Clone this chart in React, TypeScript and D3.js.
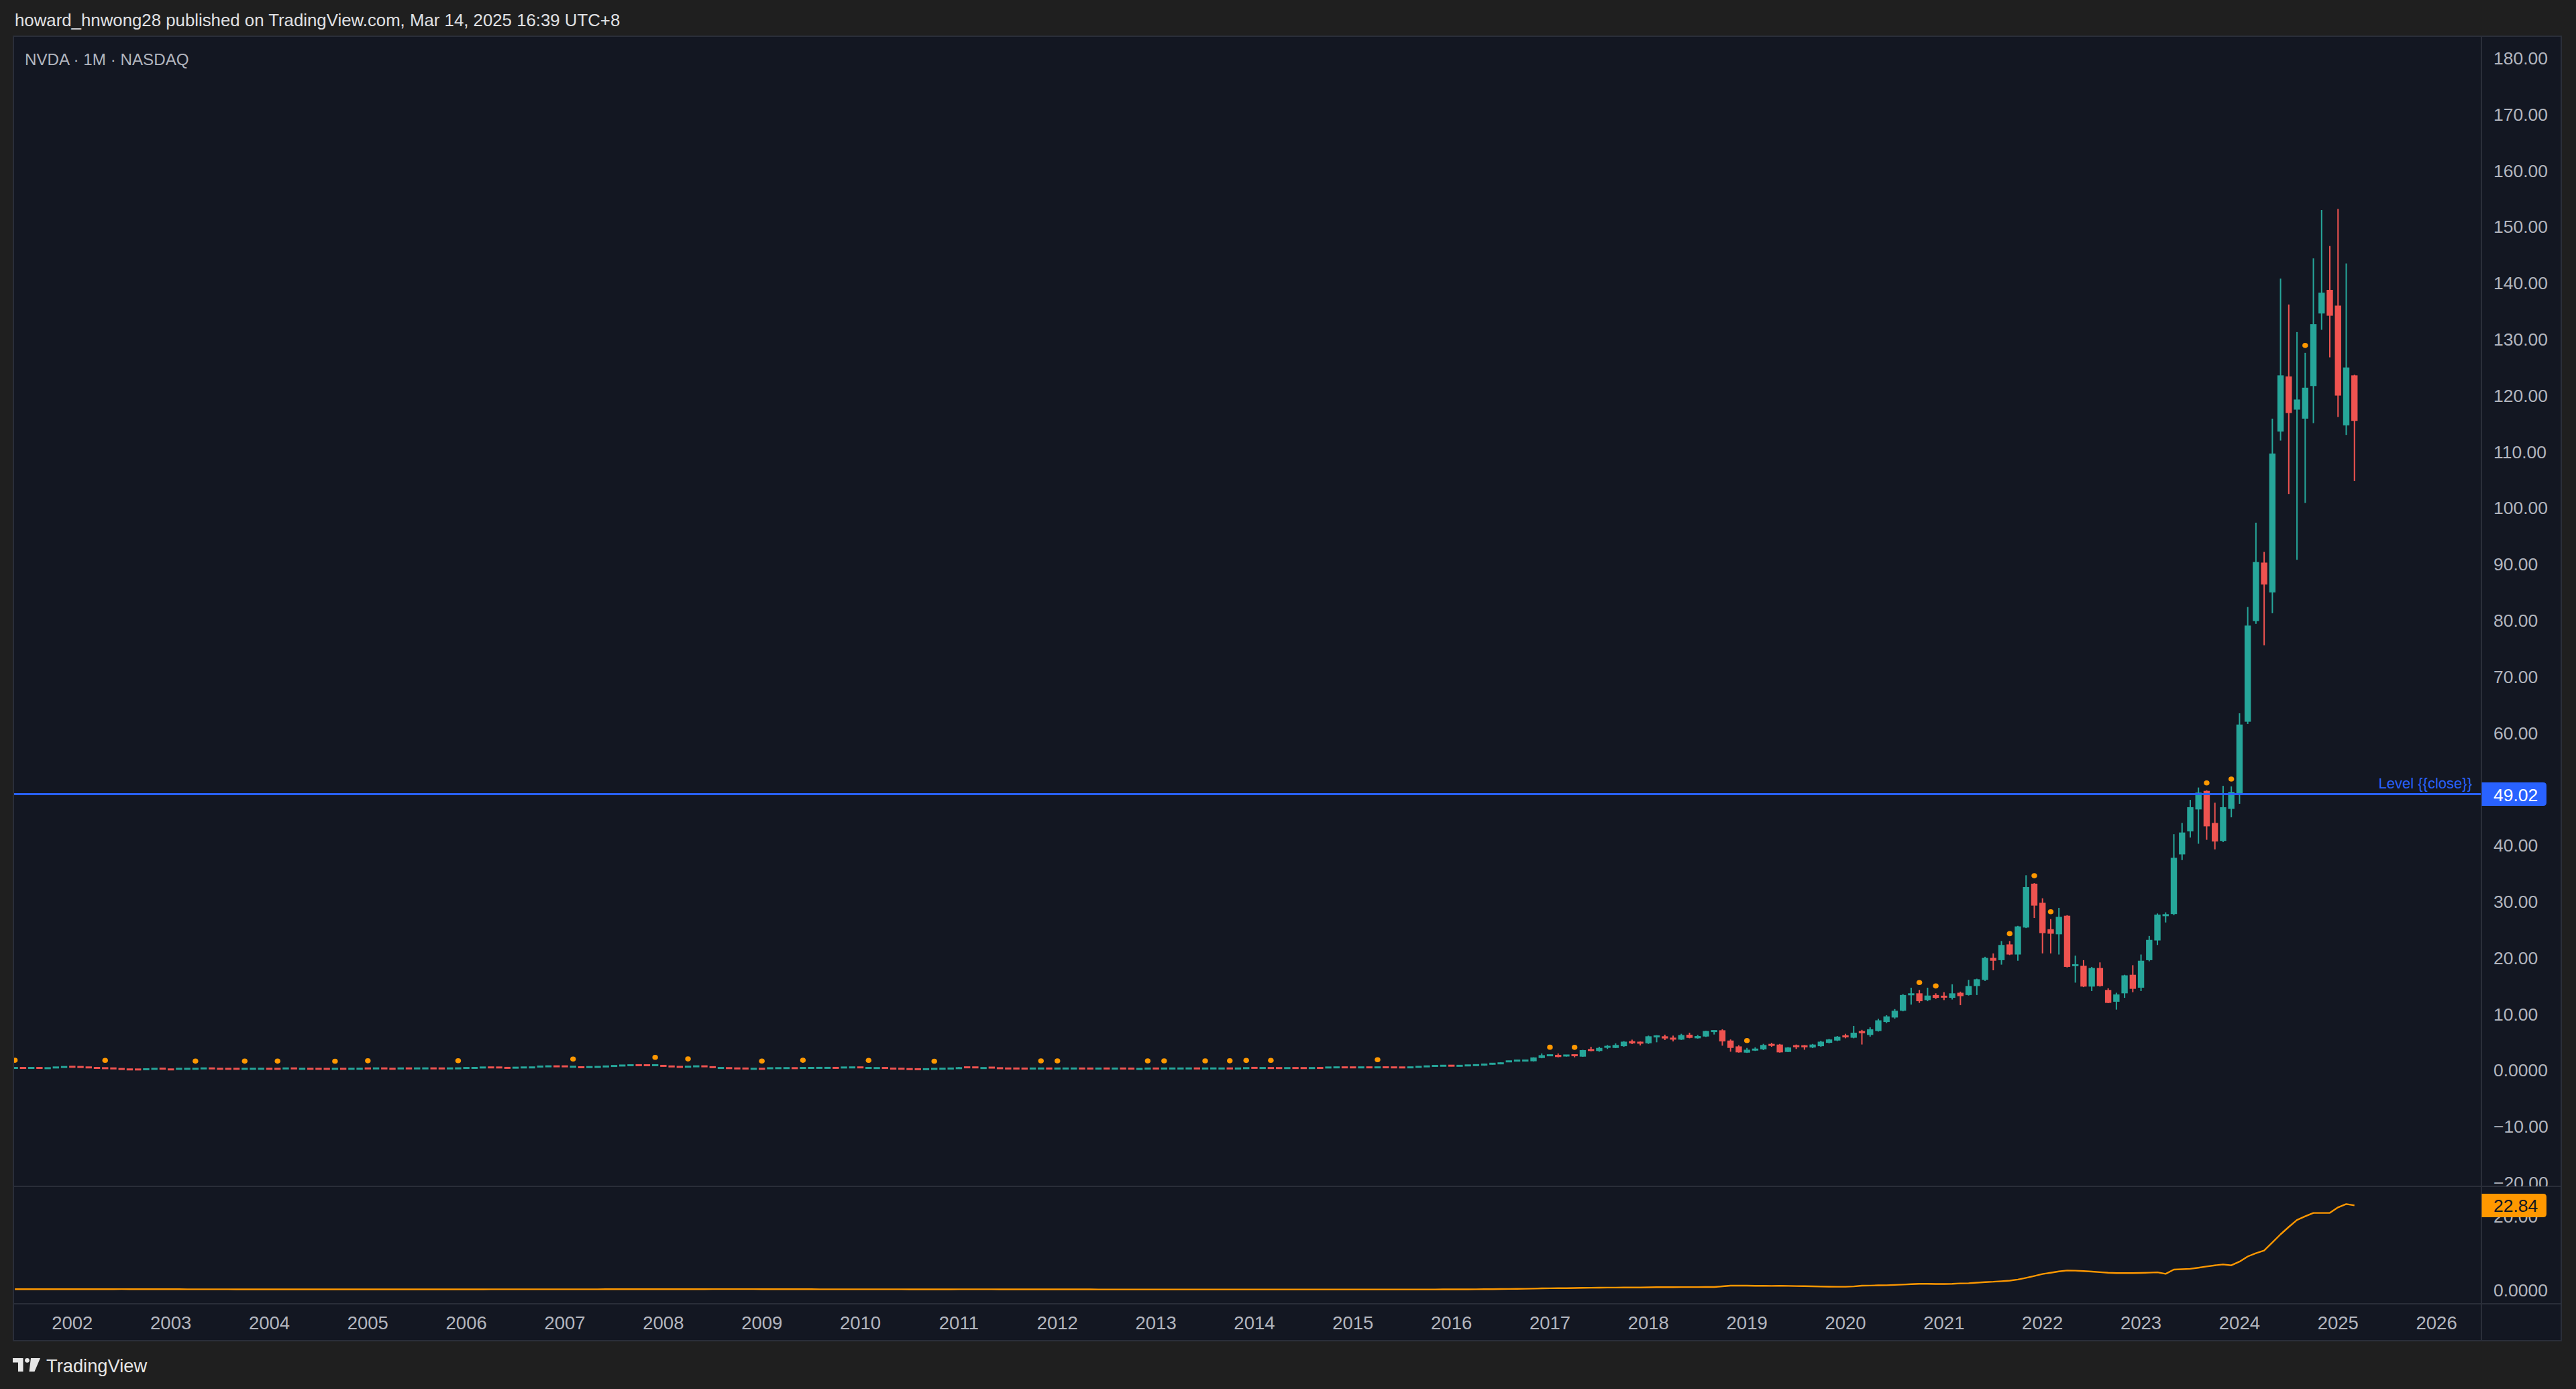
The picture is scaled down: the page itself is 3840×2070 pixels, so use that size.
import React from 'react';
import * as d3 from 'd3';

// ---------------- DATA (monthly OHLC, split-adjusted) ----------------
// index 0 = Jan 2002; the first visible bar is Jun 2001 (index -7)
const FIRST_INDEX = -7;
type Bar = [number, number, number, number]; // open, high, low, close

const y2001: Bar[] = [
  [0.31, 0.38, 0.28, 0.35], [0.35, 0.38, 0.29, 0.31], [0.31, 0.37, 0.28, 0.35], [0.35, 0.37, 0.28, 0.31],
  [0.27, 0.36, 0.24, 0.31], [0.39, 0.46, 0.36, 0.44], [0.47, 0.54, 0.45, 0.52],
];
const y2002: Bar[] = [
  [0.56, 0.6, 0.5, 0.52], [0.52, 0.56, 0.46, 0.48], [0.45, 0.48, 0.38, 0.4], [0.36, 0.4, 0.29, 0.31],
  [0.31, 0.36, 0.25, 0.27], [0.27, 0.31, 0.21, 0.23], [0.17, 0.2, 0.1, 0.12], [0.09, 0.11, 0.04, 0.05],
  [0.07, 0.1, 0.03, 0.05], [0.08, 0.13, 0.06, 0.12], [0.15, 0.21, 0.13, 0.2], [0.23, 0.26, 0.17, 0.19],
];
const y2003: Bar[] = [
  [0.09, 0.12, 0.04, 0.05], [0.15, 0.21, 0.12, 0.2], [0.16, 0.21, 0.14, 0.2], [0.17, 0.23, 0.15, 0.2],
  [0.23, 0.29, 0.21, 0.27], [0.27, 0.3, 0.22, 0.23], [0.2, 0.23, 0.15, 0.17], [0.19, 0.22, 0.15, 0.17],
  [0.2, 0.22, 0.15, 0.17], [0.16, 0.23, 0.15, 0.2], [0.17, 0.21, 0.15, 0.2], [0.18, 0.22, 0.16, 0.2],
];
const y2004: Bar[] = [
  [0.2, 0.22, 0.15, 0.17], [0.19, 0.23, 0.15, 0.17], [0.22, 0.28, 0.2, 0.27], [0.27, 0.29, 0.22, 0.23],
  [0.17, 0.21, 0.15, 0.2], [0.2, 0.22, 0.16, 0.17], [0.19, 0.21, 0.15, 0.17], [0.18, 0.2, 0.14, 0.16],
  [0.16, 0.22, 0.15, 0.2], [0.2, 0.21, 0.15, 0.17], [0.17, 0.21, 0.15, 0.2], [0.18, 0.22, 0.16, 0.21],
];
const y2005: Bar[] = [
  [0.26, 0.29, 0.21, 0.23], [0.23, 0.28, 0.21, 0.27], [0.27, 0.29, 0.22, 0.23], [0.21, 0.23, 0.16, 0.17],
  [0.22, 0.28, 0.2, 0.27], [0.27, 0.29, 0.22, 0.23], [0.23, 0.28, 0.21, 0.27], [0.24, 0.29, 0.22, 0.27],
  [0.27, 0.29, 0.22, 0.24], [0.26, 0.28, 0.21, 0.23], [0.23, 0.28, 0.21, 0.27], [0.24, 0.31, 0.22, 0.28],
];
const y2006: Bar[] = [
  [0.3, 0.36, 0.28, 0.35], [0.32, 0.37, 0.3, 0.35], [0.38, 0.46, 0.36, 0.44], [0.44, 0.47, 0.38, 0.41],
  [0.43, 0.46, 0.38, 0.4], [0.37, 0.39, 0.3, 0.32], [0.35, 0.42, 0.33, 0.4], [0.4, 0.46, 0.38, 0.44],
  [0.41, 0.46, 0.39, 0.44], [0.52, 0.65, 0.5, 0.64], [0.6, 0.66, 0.58, 0.64], [0.64, 0.67, 0.57, 0.6],
];
const y2007: Bar[] = [
  [0.63, 0.66, 0.56, 0.6], [0.52, 0.6, 0.5, 0.57], [0.48, 0.5, 0.4, 0.43], [0.45, 0.53, 0.43, 0.52],
  [0.49, 0.55, 0.47, 0.53], [0.55, 0.65, 0.53, 0.64], [0.64, 0.72, 0.62, 0.72], [0.72, 0.8, 0.7, 0.8],
  [0.78, 0.86, 0.75, 0.84], [0.84, 0.88, 0.76, 0.8], [0.83, 0.87, 0.76, 0.79], [0.79, 0.9, 0.76, 0.84],
];
const y2008: Bar[] = [
  [0.78, 0.8, 0.6, 0.62], [0.64, 0.66, 0.54, 0.56], [0.56, 0.58, 0.46, 0.48], [0.5, 0.62, 0.48, 0.6],
  [0.6, 0.67, 0.58, 0.64], [0.65, 0.67, 0.56, 0.59], [0.52, 0.55, 0.38, 0.42], [0.3, 0.38, 0.28, 0.35],
  [0.33, 0.35, 0.25, 0.27], [0.28, 0.3, 0.2, 0.22], [0.26, 0.28, 0.18, 0.21], [0.16, 0.22, 0.14, 0.2],
];
const y2009: Bar[] = [
  [0.2, 0.24, 0.15, 0.17], [0.25, 0.32, 0.23, 0.31], [0.28, 0.33, 0.26, 0.31], [0.29, 0.34, 0.27, 0.32],
  [0.31, 0.33, 0.26, 0.28], [0.3, 0.38, 0.28, 0.35], [0.32, 0.37, 0.3, 0.35], [0.33, 0.38, 0.31, 0.36],
  [0.33, 0.38, 0.31, 0.36], [0.36, 0.38, 0.3, 0.32], [0.38, 0.46, 0.36, 0.44], [0.4, 0.47, 0.38, 0.45],
];
const y2010: Bar[] = [
  [0.45, 0.47, 0.38, 0.41], [0.31, 0.37, 0.29, 0.35], [0.29, 0.35, 0.27, 0.33], [0.34, 0.37, 0.29, 0.31],
  [0.25, 0.27, 0.17, 0.19], [0.21, 0.23, 0.16, 0.18], [0.15, 0.17, 0.09, 0.11], [0.12, 0.14, 0.08, 0.1],
  [0.09, 0.15, 0.08, 0.13], [0.14, 0.22, 0.13, 0.2], [0.18, 0.23, 0.16, 0.21], [0.21, 0.27, 0.2, 0.25],
];
const y2011: Bar[] = [
  [0.26, 0.51, 0.25, 0.33], [0.46, 0.49, 0.4, 0.42], [0.45, 0.48, 0.38, 0.41], [0.29, 0.35, 0.27, 0.33],
  [0.41, 0.44, 0.35, 0.37], [0.31, 0.33, 0.24, 0.26], [0.26, 0.28, 0.2, 0.22], [0.25, 0.27, 0.2, 0.22],
  [0.24, 0.26, 0.19, 0.21], [0.21, 0.27, 0.2, 0.25], [0.22, 0.28, 0.21, 0.25], [0.25, 0.27, 0.2, 0.22],
];
const y2012: Bar[] = [
  [0.21, 0.28, 0.2, 0.25], [0.22, 0.27, 0.21, 0.25], [0.22, 0.27, 0.21, 0.25], [0.25, 0.27, 0.2, 0.22],
  [0.24, 0.26, 0.2, 0.22], [0.21, 0.26, 0.2, 0.24], [0.25, 0.27, 0.2, 0.22], [0.21, 0.26, 0.2, 0.24],
  [0.25, 0.26, 0.2, 0.22], [0.24, 0.25, 0.18, 0.2], [0.14, 0.2, 0.12, 0.18], [0.2, 0.27, 0.19, 0.25],
];
const y2013: Bar[] = [
  [0.25, 0.27, 0.2, 0.22], [0.21, 0.28, 0.2, 0.25], [0.22, 0.27, 0.21, 0.25], [0.22, 0.27, 0.21, 0.25],
  [0.23, 0.27, 0.21, 0.26], [0.26, 0.27, 0.21, 0.23], [0.22, 0.28, 0.21, 0.25], [0.23, 0.27, 0.22, 0.26],
  [0.22, 0.27, 0.21, 0.25], [0.26, 0.29, 0.22, 0.23], [0.22, 0.27, 0.21, 0.25], [0.27, 0.35, 0.26, 0.32],
];
const y2014: Bar[] = [
  [0.36, 0.38, 0.31, 0.33], [0.3, 0.35, 0.28, 0.33], [0.33, 0.37, 0.29, 0.3], [0.32, 0.34, 0.28, 0.3],
  [0.29, 0.34, 0.28, 0.32], [0.33, 0.34, 0.28, 0.3], [0.32, 0.33, 0.28, 0.3], [0.29, 0.34, 0.28, 0.33],
  [0.34, 0.35, 0.29, 0.31], [0.38, 0.45, 0.37, 0.44], [0.42, 0.46, 0.4, 0.45], [0.45, 0.47, 0.4, 0.42],
];
const y2015: Bar[] = [
  [0.44, 0.46, 0.4, 0.42], [0.41, 0.46, 0.4, 0.45], [0.45, 0.47, 0.4, 0.42], [0.41, 0.49, 0.4, 0.46],
  [0.46, 0.48, 0.41, 0.43], [0.44, 0.46, 0.4, 0.42], [0.43, 0.45, 0.39, 0.41], [0.41, 0.47, 0.4, 0.46],
  [0.47, 0.58, 0.46, 0.57], [0.57, 0.66, 0.55, 0.65], [0.65, 0.74, 0.63, 0.73], [0.7, 0.76, 0.68, 0.74],
];
const y2016: Bar[] = [
  [0.76, 0.78, 0.62, 0.7], [0.69, 0.75, 0.65, 0.73], [0.73, 0.83, 0.72, 0.83], [0.8, 0.88, 0.77, 0.86],
  [0.76, 1.12, 0.72, 1.1], [0.95, 1.22, 0.93, 1.2], [1.0, 1.34, 0.98, 1.3], [1.4, 1.62, 1.38, 1.6],
  [1.5, 1.8, 1.48, 1.78], [1.52, 1.8, 1.5, 1.78], [1.52, 2.22, 1.5, 2.2], [2.1, 2.9, 2.05, 2.6],
];
const y2017: Bar[] = [
  [2.55, 2.7, 2.45, 2.62], [2.66, 2.9, 2.22, 2.27], [2.52, 2.62, 2.35, 2.57], [2.62, 2.68, 2.22, 2.57],
  [2.34, 3.55, 2.3, 3.5], [3.65, 4.1, 3.3, 3.38], [3.34, 4.1, 3.22, 3.89], [3.97, 4.41, 3.7, 4.2],
  [3.89, 4.69, 3.85, 4.41], [4.2, 5.1, 4.1, 5.0], [5.1, 5.36, 4.57, 4.7], [4.92, 5.05, 4.33, 4.72],
];
const y2018: Bar[] = [
  [4.72, 6.08, 4.6, 5.96], [5.88, 6.16, 4.89, 6.0], [5.96, 6.25, 5.29, 5.57], [5.68, 6.08, 5.05, 5.4],
  [5.37, 6.4, 5.3, 6.17], [6.24, 6.6, 5.6, 5.68], [5.6, 6.2, 5.55, 6.0], [5.92, 6.95, 5.85, 6.9],
  [6.82, 6.98, 6.28, 6.95], [7.03, 7.2, 4.29, 5.05], [5.2, 5.4, 3.22, 3.89], [4.16, 4.37, 3.05, 3.1],
];
const y2019: Bar[] = [
  [3.05, 3.89, 3.0, 3.57], [3.41, 4.0, 3.35, 3.77], [3.65, 4.61, 3.5, 4.41], [4.57, 4.81, 4.09, 4.29],
  [4.49, 4.6, 3.05, 3.1], [3.18, 4.05, 3.15, 3.97], [4.25, 4.49, 3.7, 4.15], [4.25, 4.4, 3.57, 4.12],
  [3.97, 4.6, 3.85, 4.49], [4.2, 5.17, 4.1, 5.0], [4.8, 5.5, 4.7, 5.4], [5.2, 6.0, 5.1, 5.9],
];
const y2020: Bar[] = [
  [6.1, 6.4, 5.6, 5.8], [5.7, 7.8, 5.6, 6.6], [6.9, 7.1, 4.5, 6.5], [6.2, 7.55, 5.9, 7.2],
  [6.9, 9.07, 6.8, 8.8], [8.5, 9.7, 8.3, 9.5], [9.3, 10.8, 9.1, 10.5], [10.5, 13.45, 10.4, 13.3],
  [13.36, 14.6, 11.6, 13.5], [13.6, 14.2, 11.9, 12.2], [12.4, 14.6, 12.2, 13.2], [13.3, 13.6, 12.6, 12.8],
];
const y2021: Bar[] = [
  [13.05, 13.8, 12.4, 12.95], [12.8, 15.2, 12.5, 13.6], [13.7, 13.9, 11.5, 13.1], [13.3, 16.0, 13.2, 14.9],
  [14.9, 16.2, 13.3, 16.1], [16.0, 20.1, 15.8, 19.9], [19.9, 20.7, 17.7, 19.4], [19.5, 22.9, 18.7, 22.2],
  [22.3, 22.9, 20.4, 20.5], [20.5, 25.6, 19.4, 25.5], [25.3, 34.6, 25.2, 32.5], [33.1, 33.2, 27.0, 29.2],
];
const y2022: Bar[] = [
  [29.7, 30.5, 20.7, 24.3], [25.0, 26.8, 20.7, 24.2], [24.1, 28.8, 20.5, 27.2], [27.4, 27.5, 18.2, 18.3],
  [18.5, 20.3, 15.5, 18.7], [18.5, 19.5, 14.7, 14.8], [14.8, 18.3, 14.0, 18.1], [18.1, 19.1, 14.8, 14.9],
  [14.2, 14.5, 11.85, 11.9], [12.1, 13.7, 10.7, 13.4], [13.6, 16.9, 12.8, 16.8], [16.9, 18.6, 13.8, 14.4],
];
const y2023: Bar[] = [
  [14.6, 20.5, 14.0, 19.4], [19.5, 23.8, 19.3, 23.1], [23.0, 27.8, 22.2, 27.6], [27.4, 28.0, 26.2, 27.6],
  [27.7, 41.9, 27.5, 37.7], [38.3, 43.9, 37.3, 42.2], [42.4, 48.0, 41.3, 46.7], [46.3, 50.2, 40.2, 49.3],
  [49.6, 49.7, 40.9, 43.3], [43.9, 47.5, 39.2, 40.6], [40.7, 50.5, 40.5, 46.7], [46.4, 50.4, 44.9, 49.4],
];
const y2024: Bar[] = [
  [49.2, 63.4, 47.3, 61.4], [61.9, 82.3, 61.5, 79.0], [79.8, 97.3, 79.3, 90.3], [90.2, 92.1, 75.5, 86.3],
  [84.9, 115.8, 81.2, 109.6], [113.5, 140.7, 111.9, 123.5], [123.3, 136.1, 102.4, 116.8], [117.4, 131.2, 90.7, 119.2],
  [115.8, 127.5, 100.8, 121.3], [121.6, 144.3, 115.0, 132.6], [134.5, 152.9, 131.6, 138.2], [138.7, 146.5, 126.7, 134.1],
];
const y2025: Bar[] = [
  [135.9, 153.1, 116.1, 119.9], [114.6, 143.4, 112.9, 124.9], [123.5, 123.6, 104.7, 115.4],
];

// bars (index from Jan 2002) that carry an orange marker above the high
const markerBars = [-7, 4, 15, 21, 25, 32, 36, 47, 61, 71, 75, 84, 89, 97, 105, 118, 120, 131, 133, 138,
  141, 143, 146, 159, 180, 183, 204, 225, 227, 236, 239, 241, 260, 263, 272];

// lower pane indicator, one value per bar
const ind2001 = [0.13, 0.13, 0.14, 0.14, 0.14, 0.15, 0.15];
const ind2002 = [0.15, 0.15, 0.15, 0.15, 0.15, 0.15, 0.16, 0.15, 0.15, 0.14, 0.14, 0.14];
const ind2003 = [0.13, 0.13, 0.12, 0.12, 0.12, 0.11, 0.11, 0.11, 0.1, 0.1, 0.1, 0.1];
const ind2004 = [0.1, 0.1, 0.1, 0.09, 0.09, 0.09, 0.09, 0.09, 0.09, 0.09, 0.09, 0.09];
const ind2005 = [0.09, 0.09, 0.09, 0.09, 0.09, 0.09, 0.09, 0.09, 0.09, 0.09, 0.09, 0.1];
const ind2006 = [0.1, 0.1, 0.1, 0.11, 0.11, 0.11, 0.11, 0.11, 0.11, 0.12, 0.12, 0.12];
const ind2007 = [0.12, 0.12, 0.12, 0.12, 0.12, 0.13, 0.13, 0.13, 0.13, 0.14, 0.14, 0.14];
const ind2008 = [0.15, 0.15, 0.15, 0.15, 0.15, 0.15, 0.16, 0.16, 0.16, 0.16, 0.16, 0.16];
const ind2009 = [0.15, 0.15, 0.14, 0.14, 0.13, 0.13, 0.13, 0.12, 0.12, 0.12, 0.12, 0.11];
const ind2010 = [0.11, 0.11, 0.11, 0.11, 0.11, 0.11, 0.1, 0.1, 0.1, 0.1, 0.1, 0.1];
const ind2011 = [0.11, 0.11, 0.11, 0.11, 0.11, 0.1, 0.1, 0.1, 0.1, 0.1, 0.09, 0.09];
const ind2012 = [0.09, 0.08, 0.08, 0.08, 0.08, 0.07, 0.07, 0.07, 0.07, 0.07, 0.07, 0.06];
const ind2013 = [0.06, 0.06, 0.06, 0.06, 0.06, 0.06, 0.06, 0.06, 0.06, 0.06, 0.06, 0.06];
const ind2014 = [0.06, 0.06, 0.06, 0.06, 0.06, 0.06, 0.06, 0.06, 0.06, 0.06, 0.06, 0.06];
const ind2015 = [0.06, 0.06, 0.06, 0.06, 0.06, 0.06, 0.06, 0.06, 0.07, 0.07, 0.07, 0.08];
const ind2016 = [0.08, 0.09, 0.1, 0.11, 0.13, 0.15, 0.17, 0.2, 0.22, 0.25, 0.3, 0.36];
const ind2017 = [0.38, 0.4, 0.41, 0.45, 0.5, 0.53, 0.55, 0.56, 0.57, 0.58, 0.59, 0.6];
const ind2018 = [0.63, 0.67, 0.68, 0.69, 0.7, 0.7, 0.7, 0.72, 0.72, 0.9, 1.1, 1.1];
const ind2019 = [1.08, 1.05, 1.04, 1.02, 1.05, 1.03, 0.98, 0.95, 0.9, 0.87, 0.83, 0.8];
const ind2020 = [0.8, 0.88, 1.1, 1.12, 1.18, 1.2, 1.3, 1.38, 1.5, 1.6, 1.6, 1.55];
const ind2021 = [1.55, 1.6, 1.7, 1.75, 1.9, 2.05, 2.15, 2.3, 2.45, 2.75, 3.2, 3.7];
const ind2022 = [4.24, 4.6, 4.95, 5.2, 5.15, 5.05, 4.9, 4.75, 4.6, 4.5, 4.5, 4.5];
const ind2023 = [4.55, 4.62, 4.7, 4.3, 5.45, 5.55, 5.65, 5.95, 6.3, 6.6, 6.85, 6.6];
const ind2024 = [7.6, 9.0, 9.9, 10.6, 12.8, 15.0, 17.0, 18.9, 19.9, 20.8, 20.8, 20.8];
const ind2025 = [22.3, 23.2, 22.84];

const yearTicks = [2002, 2003, 2004, 2005, 2006, 2007, 2008, 2009, 2010, 2011, 2012, 2013, 2014,
  2015, 2016, 2017, 2018, 2019, 2020, 2021, 2022, 2023, 2024, 2025, 2026];
const priceTicks = [180, 170, 160, 150, 140, 130, 120, 110, 100, 90, 80, 70, 60, 50, 40, 30, 20, 10, 0, -10, -20];
const priceTickLabels = ['180.00', '170.00', '160.00', '150.00', '140.00', '130.00', '120.00', '110.00',
  '100.00', '90.00', '80.00', '70.00', '60.00', '50.00', '40.00', '30.00', '20.00', '10.00', '0.0000',
  '\u221210.00', '\u221220.00'];
const indTicks = [20, 0];
const indTickLabels = ['20.00', '0.0000'];

const levelValue = 49.02;
const levelText = 'Level {{close}}';
const lastIndicator = 22.84;

const headerText = 'howard_hnwong28 published on TradingView.com, Mar 14, 2025 16:39 UTC+8';
const legendText = 'NVDA \u00b7 1M \u00b7 NASDAQ';

// ---------------- STYLE ----------------
const COL = {
  page: '#1f1f1f',
  pane: '#131722',
  line: '#2a2e39',
  text: '#b2b5be',
  header: '#e0e1e4',
  up: '#26a69a',
  down: '#ef5350',
  orange: '#ff9800',
  blue: '#2962ff',
};
const FONT = '"Liberation Sans", Arial, Helvetica, sans-serif';
const FR = { left: 20, top: 54, right: 3818, axisX: 3699, mainBottom: 1768, indBottom: 1943, timeBottom: 1998 };

export default function App() {
  const bars: Bar[] = [
    ...y2001, ...y2002, ...y2003, ...y2004, ...y2005, ...y2006, ...y2007, ...y2008, ...y2009,
    ...y2010, ...y2011, ...y2012, ...y2013, ...y2014, ...y2015, ...y2016, ...y2017, ...y2018,
    ...y2019, ...y2020, ...y2021, ...y2022, ...y2023, ...y2024, ...y2025,
  ];
  const indicator: number[] = [
    ...ind2001, ...ind2002, ...ind2003, ...ind2004, ...ind2005, ...ind2006, ...ind2007, ...ind2008,
    ...ind2009, ...ind2010, ...ind2011, ...ind2012, ...ind2013, ...ind2014, ...ind2015, ...ind2016,
    ...ind2017, ...ind2018, ...ind2019, ...ind2020, ...ind2021, ...ind2022, ...ind2023, ...ind2024, ...ind2025,
  ];

  const x = d3.scaleLinear().domain([0, 288]).range([107.8, 3632.1]);
  const y = d3.scaleLinear().domain([-20, 180]).range([1761.9, 85.9]);
  const yInd = d3.scaleLinear().domain([0, 20]).range([1922, 1812]);

  const bodyW = 9.4;
  const wickW = 2;
  const minBody = 3;

  const indLine = d3
    .line<number>()
    .x((_, i) => x(FIRST_INDEX + i))
    .y((d) => yInd(d))(indicator) as string;

  const levelY = y(levelValue);
  const lastIndY = yInd(lastIndicator);

  const labelBox = (cy: number) => {
    const x0 = FR.axisX + 0.5, x1 = 3796, h = 35, r = 5;
    const t = cy - h / 2, b = cy + h / 2;
    return `M${x0},${t} H${x1 - r} Q${x1},${t} ${x1},${t + r} V${b - r} Q${x1},${b} ${x1 - r},${b} H${x0} Z`;
  };

  // tick labels that would sit under the level price tag are hidden, as TradingView does
  const visiblePriceTicks = priceTicks
    .map((v, i) => ({ v, label: priceTickLabels[i] }))
    .filter((t) => Math.abs(y(t.v) - levelY) > 24);

  return (
    <svg
      width={3840}
      height={2070}
      viewBox="0 0 3840 2070"
      style={{ position: 'absolute', left: 0, top: 0, display: 'block' }}
      fontFamily={FONT}
    >
      <defs>
        <clipPath id="mainClip">
          <rect x={FR.left} y={FR.top} width={FR.axisX - FR.left} height={FR.mainBottom - FR.top} />
        </clipPath>
        <clipPath id="indClip">
          <rect x={FR.left} y={FR.mainBottom} width={FR.axisX - FR.left} height={FR.indBottom - FR.mainBottom} />
        </clipPath>
        <clipPath id="axisClip">
          <rect x={FR.axisX} y={FR.top} width={FR.right - FR.axisX} height={FR.mainBottom - FR.top} />
        </clipPath>
      </defs>

      <rect x={0} y={0} width={3840} height={2070} fill={COL.page} />
      <text x={22} y={30} fontSize={25.8} fill={COL.header} dominantBaseline="central">
        {headerText}
      </text>

      {/* chart frame */}
      <rect x={FR.left} y={FR.top} width={FR.right - FR.left} height={FR.timeBottom - FR.top} fill={COL.pane} />

      {/* main pane */}
      <g clipPath="url(#mainClip)">
        {bars.map((b, i) => {
          const [o, h, l, c] = b;
          const idx = FIRST_INDEX + i;
          const cx = x(idx);
          const up = c >= o;
          const color = up ? COL.up : COL.down;
          let top = y(Math.max(o, c));
          let bot = y(Math.min(o, c));
          if (bot - top < minBody) {
            const mid = (top + bot) / 2;
            top = mid - minBody / 2;
            bot = mid + minBody / 2;
          }
          return (
            <g key={i}>
              <rect x={cx - wickW / 2} y={y(h)} width={wickW} height={Math.max(1, y(l) - y(h))} fill={color} />
              <rect x={cx - bodyW / 2} y={top} width={bodyW} height={bot - top} fill={color} />
            </g>
          );
        })}
        {markerBars.map((idx) => {
          const b = bars[idx - FIRST_INDEX];
          return <ellipse key={idx} cx={x(idx)} cy={y(b[1]) - 11} rx={4.2} ry={3.8} fill={COL.orange} />;
        })}
        <line x1={FR.left} x2={FR.axisX} y1={levelY} y2={levelY} stroke={COL.blue} strokeWidth={3} />
        <text x={3685} y={levelY - 16} fontSize={22} fill={COL.blue} textAnchor="end" dominantBaseline="central">
          {levelText}
        </text>
      </g>

      <text x={37} y={88} fontSize={24.2} fill={COL.text} dominantBaseline="central">
        {legendText}
      </text>

      {/* indicator pane */}
      <g clipPath="url(#indClip)">
        <path d={indLine} fill="none" stroke={COL.orange} strokeWidth={2.4} strokeLinejoin="round" />
      </g>

      {/* separators */}
      <line x1={FR.axisX} x2={FR.axisX} y1={FR.top} y2={FR.timeBottom} stroke={COL.line} strokeWidth={2} />
      <line x1={FR.left} x2={FR.right} y1={FR.mainBottom} y2={FR.mainBottom} stroke={COL.line} strokeWidth={2} />
      <line x1={FR.left} x2={FR.right} y1={FR.indBottom} y2={FR.indBottom} stroke={COL.line} strokeWidth={2} />
      <rect x={FR.left} y={FR.top} width={FR.right - FR.left} height={FR.timeBottom - FR.top} fill="none" stroke={COL.line} strokeWidth={2} />

      {/* price axis */}
      <g clipPath="url(#axisClip)">
        {visiblePriceTicks.map((t) => (
          <text key={t.v} x={3717} y={y(t.v) + 1} fontSize={26.5} fill={COL.text} dominantBaseline="central">
            {t.label}
          </text>
        ))}
      </g>
      <path d={labelBox(levelY)} fill={COL.blue} />
      <text x={3717} y={levelY + 1} fontSize={26.5} fill="#ffffff" dominantBaseline="central">
        {levelValue.toFixed(2)}
      </text>

      {/* indicator axis */}
      {indTicks.map((v, i) => (
        <text key={v} x={3717} y={yInd(v) + 1} fontSize={26.5} fill={COL.text} dominantBaseline="central">
          {indTickLabels[i]}
        </text>
      ))}
      <path d={labelBox(lastIndY)} fill={COL.orange} />
      <text x={3717} y={lastIndY + 1} fontSize={26.5} fill="#131722" dominantBaseline="central">
        {lastIndicator.toFixed(2)}
      </text>

      {/* time axis */}
      {yearTicks.map((yr) => (
        <text key={yr} x={x((yr - 2002) * 12)} y={1971} fontSize={27.5} fill={COL.text} textAnchor="middle" dominantBaseline="central">
          {yr}
        </text>
      ))}

      {/* footer logo */}
      <g fill="#e6e6e6">
        <rect x={19} y={2024} width={15} height={6.5} />
        <rect x={27} y={2024} width={7.5} height={20} />
        <circle cx={40.5} cy={2027.3} r={3.4} />
        <polygon points="46,2024 60,2024 51.5,2044 43.5,2044" />
      </g>
      <text x={69} y={2035} fontSize={27.3} fill="#e6e6e6" dominantBaseline="central" fontWeight={500}>
        TradingView
      </text>
    </svg>
  );
}
